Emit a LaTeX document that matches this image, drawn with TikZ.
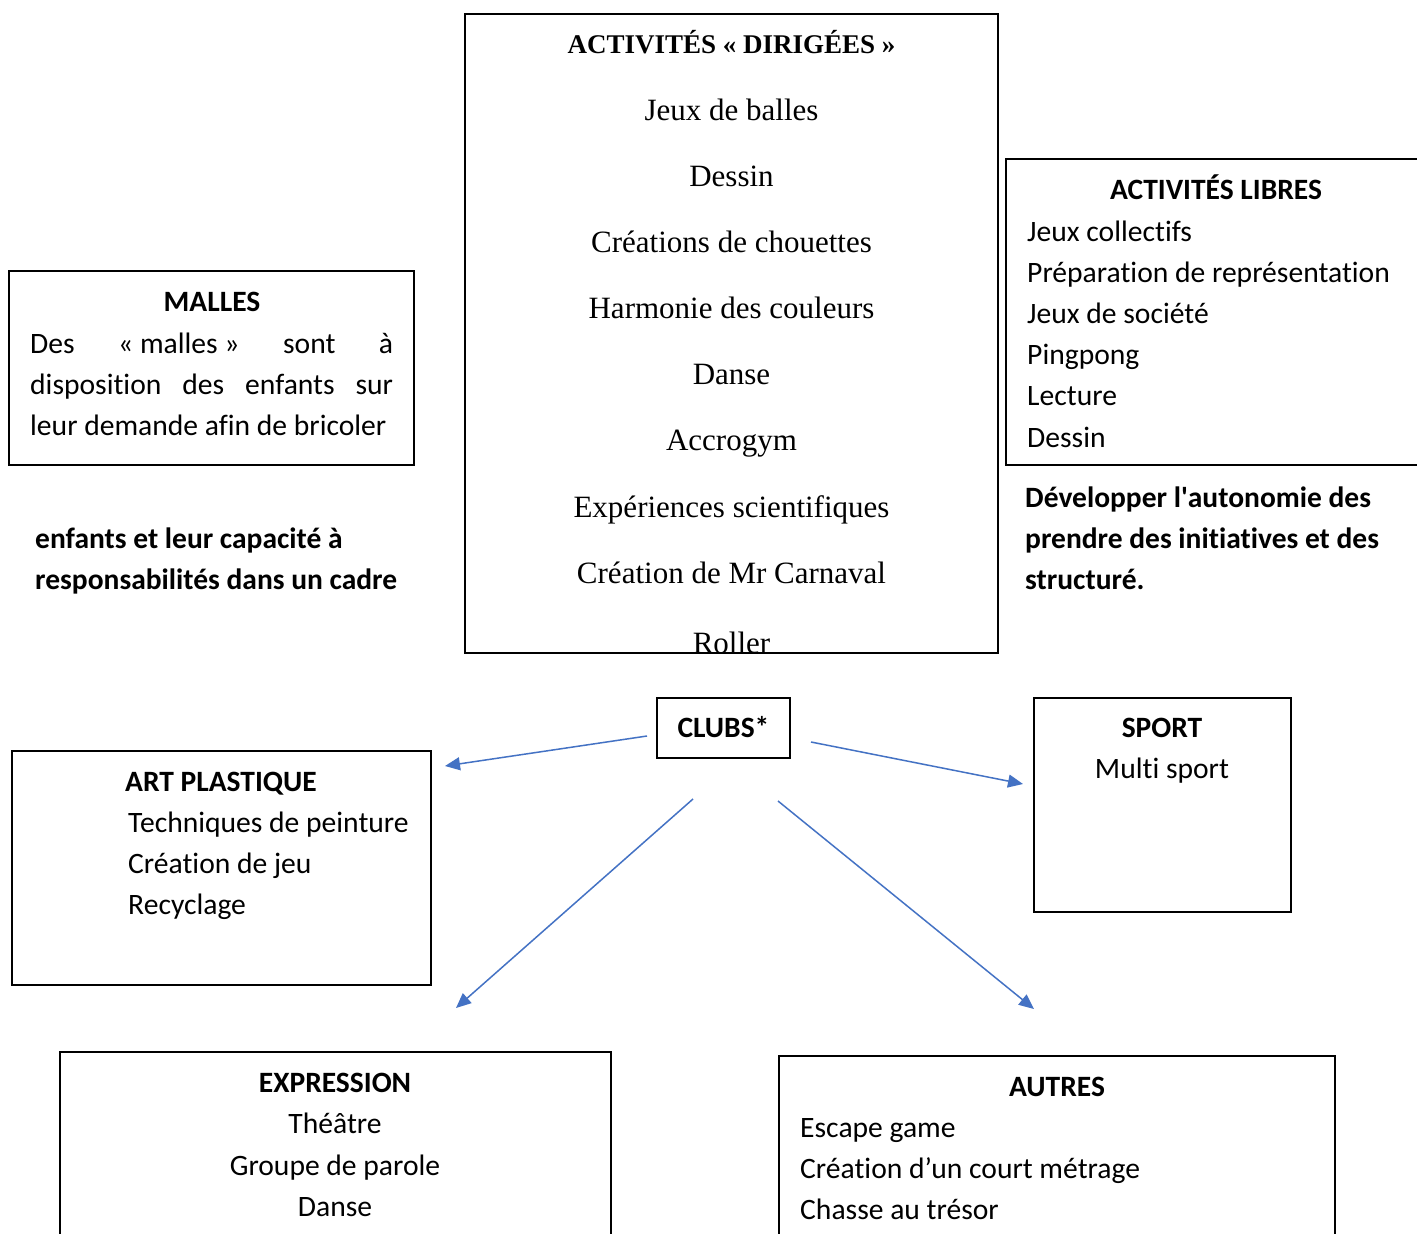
\documentclass[tikz,border=0pt]{standalone}
\usepackage{fontspec}
\setmainfont{Carlito}[Ligatures=NoCommon]
\newfontfamily\camb{Liberation Serif}[Ligatures=NoCommon]
\newcommand{\sq}{{\XeTeXglyph\numexpr\XeTeXcharglyph"0027\relax}}
\usetikzlibrary{arrows.meta}
\definecolor{arrblue}{HTML}{4472C4}
\begin{document}
\begin{tikzpicture}[x=1pt,y=-1pt,
  box/.style={draw=black, line width=2pt, inner sep=0pt, outer sep=0pt, anchor=north west},
  arr/.style={draw=arrblue, line width=1.5pt, -{Triangle[length=15pt,width=13pt]}},
  tx/.style={anchor=base, inner sep=0pt, font=\fontsize{29.6}{35}\selectfont},
  txl/.style={tx, anchor=base west},
  txb/.style={tx, font=\fontsize{29.5}{35}\selectfont\bfseries},
  txbl/.style={txb, anchor=base west},
  sx/.style={anchor=base, inner sep=0pt, font=\camb\fontsize{31}{36}\selectfont},
  sxb/.style={sx, font=\camb\fontsize{27}{36}\selectfont\bfseries}]
\useasboundingbox (0,0) rectangle (1417,1234);
\clip (0,0) rectangle (1417,1234);
\fill[white] (0,0) rectangle (1417,1234);

% centre box
\node[box, minimum width=533pt, minimum height=639pt] (dir) at (465,14) {};
\begin{scope}
\clip (466,15) rectangle (997,651);
\node[sxb] (d0) at (731.5,53) {ACTIVITÉS « DIRIGÉES »};
\node[sx] (d1) at (731.5,120) {Jeux de balles};
\node[sx] (d2) at (731.5,186) {Dessin};
\node[sx] (d3) at (731.5,252) {Créations de chouettes};
\node[sx] (d4) at (731.5,318) {Harmonie des couleurs};
\node[sx] (d5) at (731.5,384) {Danse};
\node[sx] (d6) at (731.5,450) {Accrogym};
\node[sx] (d7) at (731.5,517) {Expériences scientifiques};
\node[sx] (d8) at (731.5,583) {Création de Mr Carnaval};
\node[sx] (d9) at (731.5,653) {Roller};
\end{scope}

% malles
\node[box, minimum width=405pt, minimum height=194pt] (malles) at (9,271) {};
\node[txb] (m0) at (212,311) {MALLES};
\node[txl] (m1) at (30,353) {\hbox to 363pt{Des\hfill «~malles~»\hfill sont\hfill à}};
\node[txl] (m2) at (30,394) {\hbox to 363pt{disposition\hfill des\hfill enfants\hfill sur}};
\node[txl] (m3) at (30,435) {leur demande afin de bricoler};
\node[txbl] (b1) at (35,548) {enfants et leur capacité à};
\node[txbl] (b2) at (35,589) {responsabilités dans un cadre};

% activites libres
\node[box, minimum width=420pt, minimum height=306pt] (libres) at (1006,159) {};
\node[txb] (l0) at (1216,199) {ACTIVITÉS LIBRES};
\node[txl] (l1) at (1027,241) {Jeux collectifs};
\node[txl] (l2) at (1027,282) {Préparation de représentation};
\node[txl] (l3) at (1027,323) {Jeux de société};
\node[txl] (l4) at (1027,364) {Pingpong};
\node[txl] (l5) at (1027,405) {Lecture};
\node[txl] (l6) at (1027,447) {Dessin};
\node[txbl] (r1) at (1025,507) {Développer l\sq autonomie des};
\node[txbl] (r2) at (1025,548) {prendre des initiatives et des};
\node[txbl] (r3) at (1025,589) {structuré.};

% clubs
\node[box, minimum width=133pt, minimum height=60pt] (clubs) at (657,698) {};
\node[txb] (c0) at (723.5,737) {CLUBS*};

% art plastique
\node[box, minimum width=419pt, minimum height=234pt] (art) at (12,751) {};
\node[txb] (a0) at (221,791) {ART PLASTIQUE};
\node[txl] (a1) at (128,832) {Techniques de peinture};
\node[txl] (a2) at (128,873) {Création de jeu};
\node[txl] (a3) at (128,914) {Recyclage};

% sport
\node[box, minimum width=257pt, minimum height=214pt] (sport) at (1034,698) {};
\node[txb] (s0) at (1162,737) {SPORT};
\node[tx] (s1) at (1162,778) {Multi sport};

% expression
\node[box, minimum width=551pt, minimum height=250pt] (expr) at (60,1052) {};
\node[txb] (e0) at (335,1092) {EXPRESSION};
\node[tx] (e1) at (335,1133) {Théâtre};
\node[tx] (e2) at (335,1175) {Groupe de parole};
\node[tx] (e3) at (335,1216) {Danse};

% autres
\node[box, minimum width=556pt, minimum height=250pt] (autres) at (779,1056) {};
\node[txb] (o0) at (1057,1096) {AUTRES};
\node[txl] (o1) at (800,1137) {Escape game};
\node[txl] (o2) at (800,1178) {Création d’un court métrage};
\node[txl] (o3) at (800,1219) {Chasse au trésor};

% arrows
\coordinate (p1s) at (647,736);  \coordinate (p1e) at (445,766);
\coordinate (p2s) at (811,742);  \coordinate (p2e) at (1023,784);
\coordinate (p3s) at (693,799);  \coordinate (p3e) at (456,1008);
\coordinate (p4s) at (778,801);  \coordinate (p4e) at (1034,1009);
\draw[arr] (p1s) -- (p1e);
\draw[arr] (p2s) -- (p2e);
\draw[arr] (p3s) -- (p3e);
\draw[arr] (p4s) -- (p4e);
\end{tikzpicture}
\end{document}
